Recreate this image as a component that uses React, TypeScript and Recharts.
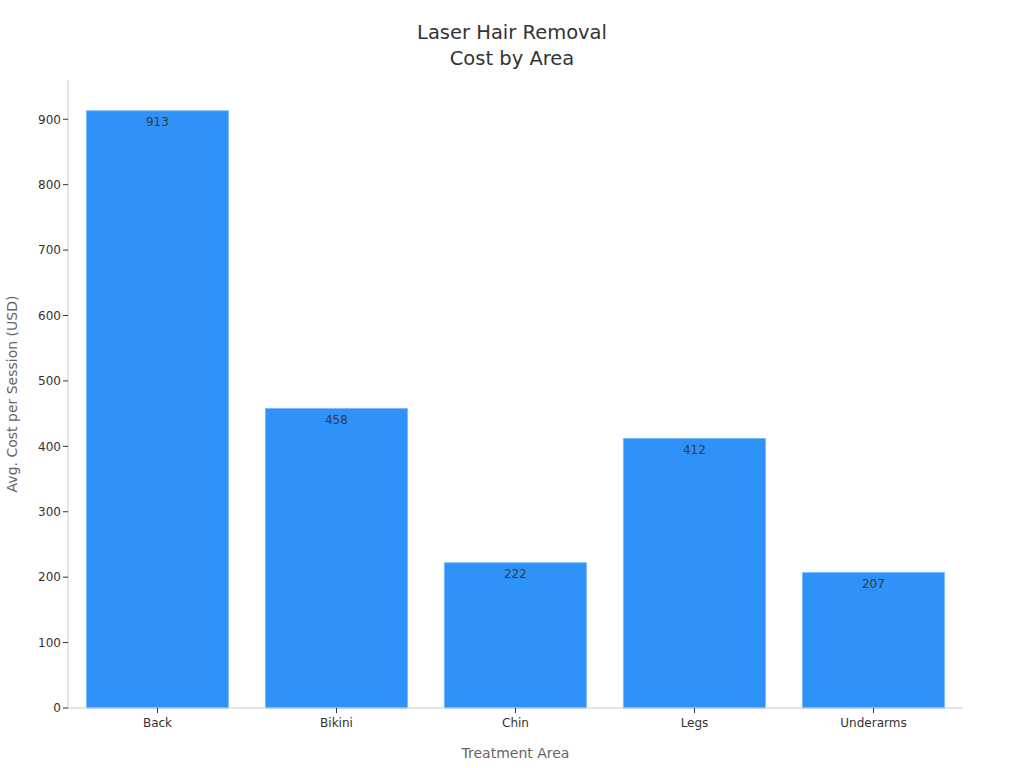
import { BarChart, Bar, XAxis, YAxis, LabelList } from "recharts"

const areas = ["Back", "Bikini", "Chin", "Legs", "Underarms"]
const costs = [913, 458, 222, 412, 207]
const yTicks = [0, 100, 200, 300, 400, 500, 600, 700, 800, 900]

const font = "DejaVu Sans, Verdana, sans-serif"

export default function App() {
  const chartData = areas.map((a, i) => ({ area: a, cost: costs[i] }))

  return (
    <div
      style={{
        position: "absolute",
        left: 0,
        top: 0,
        width: 1024,
        height: 768,
        background: "white",
        fontFamily: font
      }}
    >
      <div
        style={{
          position: "absolute",
          top: 20,
          left: 0,
          width: 1024,
          textAlign: "center",
          fontSize: 19.5,
          lineHeight: "26px",
          color: "#333"
        }}
      >
        Laser Hair Removal
        <br />
        Cost by Area
      </div>
      <BarChart
        width={1024}
        height={768}
        data={chartData}
        margin={{ top: 80, right: 61, bottom: 0, left: 0 }}
        barCategoryGap="10.3%"
      >
        <XAxis
          dataKey="area"
          height={60}
          tick={{ fontSize: 12, fill: "#333", fontFamily: font, dy: 3 }}
          tickLine={{ stroke: "#333" }}
          tickSize={5}
          axisLine={{ stroke: "#ccc" }}
          label={{
            value: "Treatment Area",
            position: "insideBottom",
            offset: 10,
            fontSize: 14,
            fill: "#666",
            fontFamily: font
          }}
        />
        <YAxis
          width={68}
          domain={[0, 960]}
          ticks={yTicks}
          tick={{ fontSize: 12, fill: "#333", fontFamily: font }}
          tickLine={{ stroke: "#333" }}
          tickSize={5}
          axisLine={{ stroke: "#ccc" }}
          label={{
            value: "Avg. Cost per Session (USD)",
            angle: -90,
            position: "insideLeft",
            offset: 12,
            style: { textAnchor: "middle" },
            fontSize: 14,
            fill: "#666",
            fontFamily: font
          }}
        />
        <Bar
          dataKey="cost"
          fill="#2E92F9"
          stroke="#7AB8FB"
          strokeWidth={1}
          isAnimationActive={false}
        >
          <LabelList
            dataKey="cost"
            position="insideTop"
            offset={7}
            style={{ fontSize: 12, fill: "#3a3a3a", fontFamily: font }}
          />
        </Bar>
      </BarChart>
    </div>
  )
}
